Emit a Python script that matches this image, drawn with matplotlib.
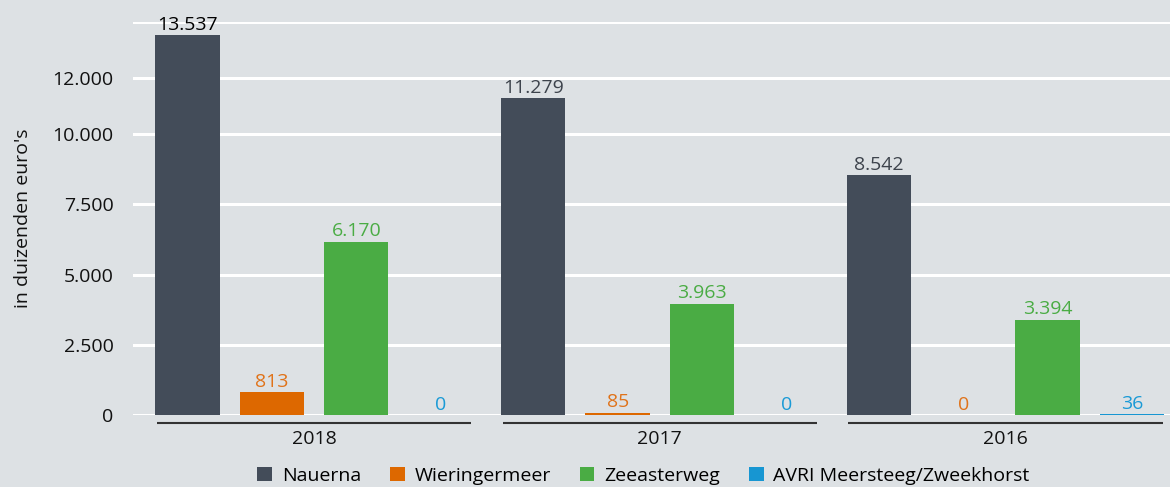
import numpy as np
import matplotlib.pyplot as plt

years = ["2018", "2017", "2016"]
series = ["Nauerna", "Wieringermeer", "Zeeasterweg", "AVRI Meersteeg/Zweekhorst"]
values = {
    "Nauerna": [13537, 11279, 8542],
    "Wieringermeer": [813, 85, 0],
    "Zeeasterweg": [6170, 3963, 3394],
    "AVRI Meersteeg/Zweekhorst": [0, 0, 36],
}
colors = ["#434c59", "#dd6800", "#4aac44", "#1796d2"]
label_colors = ["#3d434c", "#e0731a", "#4aac44", "#1a9ad6"]
yticks = [0, 2500, 5000, 7500, 10000, 12000]
ytick_labels = ["0", "2.500", "5.000", "7.500", "10.000", "12.000"]

bg = "#dde1e4"
plt.rcParams["font.family"] = ["Open Sans", "DejaVu Sans"]
fs = 14

fig = plt.figure(figsize=(11.7, 4.87), dpi=100, facecolor=bg)
ax = fig.add_axes([0.1137, 0.148, 0.8863, 0.807], facecolor=bg)

x = np.arange(len(years))
pitch = 0.244
width = 0.186

# gridlines
for t in yticks + [14000]:
    ax.axhline(t, color="white", lw=2.2, zorder=0)

for i, s in enumerate(series):
    pos = x + (i - 1.5) * pitch
    ax.bar(pos, values[s], width, color=colors[i], zorder=2, label=s)
    for j, (px, v) in enumerate(zip(pos, values[s])):
        txt = f"{v:,}".replace(",", ".")
        c = label_colors[i]
        if i == 0 and j == 0:
            c = "black"
        ax.annotate(txt, (px, v), xytext=(0, 1), textcoords="offset points",
                    ha="center", va="bottom", fontsize=fs, color=c, zorder=3)

ax.set_xlim(-0.524, 2.476)
ax.set_ylim(0, 14000)
ax.set_yticks(yticks)
ax.set_yticklabels(ytick_labels, fontsize=fs, color="#111111")
ax.tick_params(axis="y", length=0, pad=14)
ax.set_xticks([])
for sp in ax.spines.values():
    sp.set_visible(False)

ax.set_ylabel("in duizenden euro's", fontsize=fs, color="#111111", labelpad=15)

# group underlines and year labels
for xi, yr in zip(x, years):
    ax.plot([xi - 0.455, xi + 0.455], [-300, -300], color="#333333", lw=1.5,
            clip_on=False, solid_capstyle="butt")
    ax.text(xi, -850, yr, ha="center", va="center", fontsize=fs, color="#111111")

fig.legend(loc="lower center", bbox_to_anchor=(0.55, -0.032), ncol=4,
           frameon=False, fontsize=fs, handlelength=0.75, handleheight=0.75,
           handletextpad=0.5, columnspacing=1.5)

plt.savefig("out.png", dpi=100, facecolor=bg)
